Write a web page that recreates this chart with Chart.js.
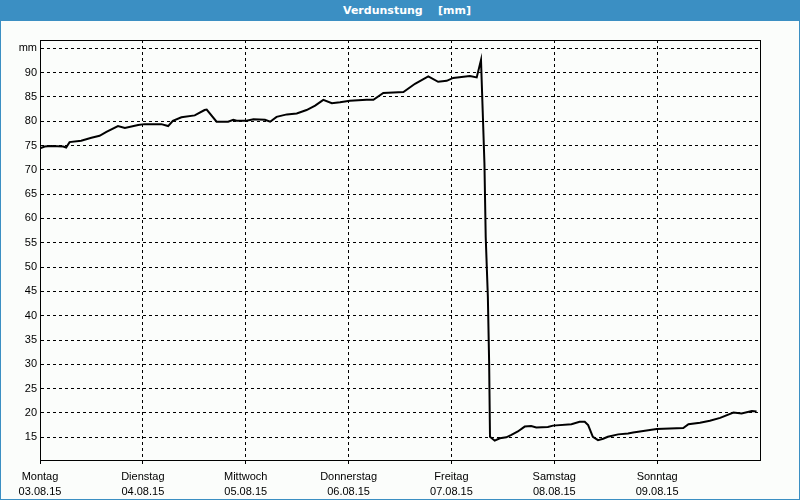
<!DOCTYPE html>
<html>
<head>
<meta charset="utf-8">
<script src="https://cdn.jsdelivr.net/npm/chart.js@4.4.1/dist/chart.umd.min.js"></script>
<style>
    body { margin: 0; background: #ffffff; }
    #frame {
        position: relative;
        width: 800px;
        height: 500px;
        box-sizing: border-box;
        background: #fbfdfb;
        border: 1px solid #3b8fc3;
        border-top: none;
    }
    #titleBar {
        position: absolute;
        left: -1px;
        top: 0;
        width: 800px;
        height: 21px;
        background: #3b8fc3;
        color: #ffffff;
        font: bold 11px "DejaVu Sans", sans-serif;
        line-height: 21px;
        text-align: center;
        white-space: pre;
        padding-left: 14px;
        box-sizing: border-box;
    }
    #chartWrap {
        position: absolute;
        left: 0;
        top: 21px;
        width: 798px;
        height: 478px;
    }
</style>
</head>
<body>
<div id="frame">
    <div id="titleBar">Verdunstung    [mm]</div>
    <div id="chartWrap"><canvas id="evapChart"></canvas></div>
</div>
<script>
// Tick labels for the x axis (one per day)
const dayNames = ['Montag', 'Dienstag', 'Mittwoch', 'Donnerstag', 'Freitag', 'Samstag', 'Sonntag'];
const dayDates = ['03.08.15', '04.08.15', '05.08.15', '06.08.15', '07.08.15', '08.08.15', '09.08.15'];
const dayTickHours = [0, 24, 48, 72, 96, 120, 144];

// y axis ticks, the top one is labelled with the unit
const yTickValues = [15, 20, 25, 30, 35, 40, 45, 50, 55, 60, 65, 70, 75, 80, 85, 90, 95];
const yTickLabels = ['15', '20', '25', '30', '35', '40', '45', '50', '55', '60', '65', '70', '75', '80', '85', '90', 'mm'];

// Evaporation series: hours since Monday 00:00 and value in mm
const hours = [
    0, 1.1, 2.6, 5.4, 6.1, 6.9, 9.6, 12.0, 13.9, 15.5, 18.2, 19.8, 22.9, 24.4, 28.3, 29.9,
    31.0, 33.0, 36.1, 38.4, 38.9, 41.2, 43.9, 45.1, 45.9, 48.2, 49.8, 52.5, 53.7, 55.2,
    57.6, 59.9, 62.2, 64.2, 66.1, 68.1, 70.0, 72.3, 76.2, 77.8, 80.1, 84.8, 87.5, 90.6,
    92.9, 94.9, 96.4, 100.3, 101.9, 102.9, 103.3, 103.7, 104.0, 104.5, 104.8, 105.0,
    106.1, 107.3, 108.8, 110.0, 111.5, 113.1, 114.6, 115.8, 118.5, 119.7, 124.0, 125.9,
    127.1, 127.9, 129.0, 130.2, 131.4, 132.5, 134.9, 137.2, 138.4, 143.9, 150.1, 151.3,
    154.0, 156.3, 158.7, 161.8, 163.7, 166.1, 167.2
];
const evaporation = [
    74.4, 74.8, 74.9, 74.8, 74.6, 75.7, 76.0, 76.6, 77.0, 77.8, 79.0, 78.6, 79.2, 79.4, 79.4, 79.0,
    80.1, 80.8, 81.2, 82.3, 82.4, 79.9, 79.9, 80.3, 80.1, 80.1, 80.4, 80.3, 79.9, 80.9,
    81.4, 81.6, 82.3, 83.2, 84.4, 83.7, 83.9, 84.2, 84.4, 84.4, 85.8, 86.0, 87.7, 89.2,
    88.1, 88.3, 88.9, 89.3, 89.0, 92.6, 82.0, 71.4, 56.2, 43.9, 30.3, 15.1,
    14.3, 14.8, 15.0, 15.5, 16.2, 17.2, 17.3, 17.0, 17.1, 17.4, 17.7, 18.2,
    18.2, 17.5, 15.1, 14.4, 14.7, 15.1, 15.6, 15.8, 16.0, 16.7, 16.9, 17.7,
    18.0, 18.4, 19.0, 20.1, 19.9, 20.4, 20.3
];

const yMin = 10.33;
const yMax = 96.7;

// draws the closed box around the plot area
const plotFrame = {
    id: 'plotFrame',
    afterDraw(chart) {
        const a = chart.chartArea;
        const ctx = chart.ctx;
        ctx.save();
        ctx.strokeStyle = '#000000';
        ctx.lineWidth = 1;
        ctx.setLineDash([]);
        ctx.strokeRect(Math.round(a.left) + 0.5, Math.round(a.top) + 0.5,
            Math.round(a.right - a.left), Math.round(a.bottom - a.top));
        ctx.restore();
    }
};

function buildChart() {
    const ctx = document.getElementById('evapChart');
    const points = hours.map((h, i) => ({ x: h, y: evaporation[i] }));
    new Chart(ctx, {
        type: 'line',
        data: {
            datasets: [{
                label: 'Verdunstung',
                data: points,
                borderColor: '#000000',
                borderWidth: 2,
                pointRadius: 0,
                tension: 0,
                fill: false
            }]
        },
        options: {
            responsive: true,
            maintainAspectRatio: false,
            animation: false,
            layout: { padding: { top: 19, right: 39, left: 0, bottom: 0 } },
            plugins: {
                legend: { display: false },
                tooltip: { enabled: false }
            },
            scales: {
                x: {
                    type: 'linear',
                    min: 0,
                    max: 168,
                    afterBuildTicks: axis => { axis.ticks = dayTickHours.map(v => ({ value: v })); },
                    afterFit: axis => { axis.height = 39; },
                    grid: { color: '#000000', lineWidth: 1, drawTicks: true, tickLength: 4 },
                    border: { display: true, color: '#000000', width: 1, dash: [3, 3] },
                    ticks: {
                        color: '#000000',
                        font: { family: 'Liberation Sans', size: 11, lineHeight: 1.4 },
                        padding: 5,
                        maxRotation: 0,
                        autoSkip: false,
                        callback: (value) => {
                            const i = dayTickHours.indexOf(value);
                            return i < 0 ? '' : [dayNames[i], dayDates[i]];
                        }
                    }
                },
                y: {
                    min: yMin,
                    max: yMax,
                    afterBuildTicks: axis => { axis.ticks = yTickValues.map(v => ({ value: v })); },
                    afterFit: axis => { axis.width = 39; },
                    grid: { color: '#000000', lineWidth: 1, drawTicks: false },
                    border: { display: true, color: '#000000', width: 1, dash: [3, 3] },
                    ticks: {
                        color: '#000000',
                        font: { family: 'Liberation Sans', size: 11 },
                        padding: 3,
                        autoSkip: false,
                        callback: (value) => {
                            const i = yTickValues.indexOf(value);
                            return i < 0 ? '' : yTickLabels[i];
                        }
                    }
                }
            }
        },
        plugins: [plotFrame]
    });
}

buildChart();
</script>
</body>
</html>
